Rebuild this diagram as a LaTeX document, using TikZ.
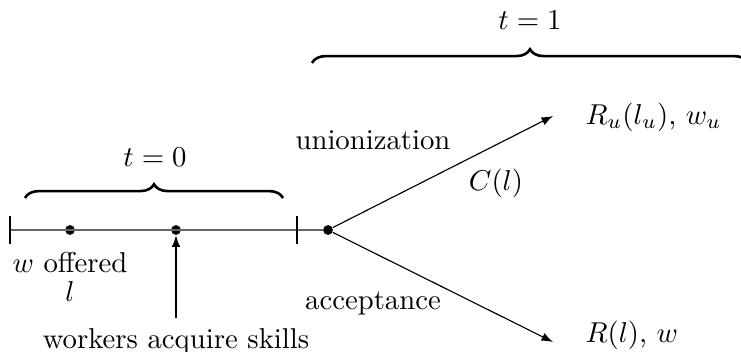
\documentclass[tikz,border=0pt]{standalone}
\usetikzlibrary{decorations.pathreplacing,arrows.meta}
\begin{document}
\begin{tikzpicture}[x=0.348pt,y=-0.348pt,
  dot/.style={circle,fill,inner sep=0pt,minimum size=3.4pt},
  tlbrace/.style={decorate,decoration={brace,amplitude=4.8pt},line width=0.9pt},
  arr/.style={-{Latex[length=4pt,width=3pt]}},
  tick/.style={line width=0.4pt}]
\useasboundingbox (0,0) rectangle (741,352);
% timeline
\coordinate (s) at (10,230);
\coordinate (e) at (297,230);
\node[dot] (d1) at (70,230) {};
\node[dot] (d2) at (176,230) {};
\node[dot] (d3) at (328,230) {};
\draw[black!60, line width=0.5pt] (s) -- (d3);
\draw[tick] ([yshift=5pt]s) -- ([yshift=-5pt]s);
\draw[tick] ([yshift=5pt]e) -- ([yshift=-5pt]e);
% labels below
\node (wo) at (70,263) {$w$ offered};
\node (l) at (70,292) {$l$};
\node (wk) at (176,341) {workers acquire skills};
\draw[arr] (wk.north) -- (d2.south);
% braces
\coordinate (b0a) at (25,198);
\coordinate (b0b) at (283,198);
\draw[tlbrace] (b0a) -- (b0b);
\node (t0) at (155,157) {$t=0$};
\coordinate (b1a) at (312,63);
\coordinate (b1b) at (748,63);
\draw[tlbrace] (b1a) -- (b1b);
\node (t1) at (530,20) {$t=1$};
% branches
\node[anchor=west,inner sep=0pt] (ru) at (585,117) {$R_u(l_u)$, $w_u$};
\node[anchor=west,inner sep=0pt] (r) at (585,335) {$R(l)$, $w$};
\coordinate (tu) at (553,116);
\coordinate (ta) at (553,342);
\draw[arr] (d3) -- (tu);
\draw[arr] (d3) -- (ta);
\node (un) at (373,140) {unionization};
\node (cl) at (496,183) {$C(l)$};
\node (ac) at (373,303) {acceptance};
\end{tikzpicture}
\end{document}
